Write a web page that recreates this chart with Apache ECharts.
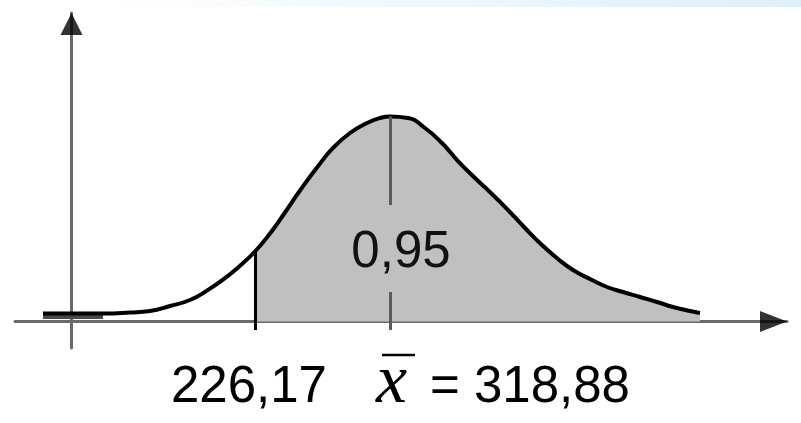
<!DOCTYPE html>
<html>
<head>
<meta charset="utf-8">
<script src="https://cdn.jsdelivr.net/npm/echarts@6/dist/echarts.min.js"></script>
<style>
  html, body { margin: 0; padding: 0; background: #fff; }
  #chart { width: 801px; height: 423px; }
</style>
</head>
<body>
<div id="chart"></div>
<script>
// values (x in the original units, y = density x 1000)
const curveX = [80.58, 121.79, 140.33, 154.06, 167.80, 181.53, 193.21, 204.19, 215.87, 226.17,
    236.47, 246.77, 257.07, 268.75, 279.74, 291.41, 303.08, 312.01, 318.88, 331.24,
    342.92, 354.59, 365.58, 377.25, 388.93, 399.92, 411.59, 423.26, 434.25, 444.55,
    456.23, 467.90, 478.89, 490.57, 502.24, 513.23, 524.90, 531.77];
const curveY = [0.276, 0.276, 0.310, 0.362, 0.534, 0.741, 1.066, 1.441, 1.921, 2.414,
    3.034, 3.759, 4.517, 5.310, 5.983, 6.500, 6.845, 7.017, 7.069, 7.017,
    6.672, 6.155, 5.534, 4.948, 4.397, 3.845, 3.224, 2.638, 2.155, 1.776,
    1.466, 1.190, 1.017, 0.845, 0.672, 0.500, 0.362, 0.293];

const cutValue = 226.17;
const meanValue = 318.88;
const areaLabel = '0,95';
const cutLabel = '226,17';
const meanLabel = '= 318,88';

// axis extents
const xRange = [61.35, 591.52];
const yRange = [-0.914, 10.638];
const yAxisAt = 100.15;

// vertical guide lines (y ends)
const cutLineY = [2.414, -0.293];
const meanLineTop = [7.069, 4.017];
const meanLineBottom = [1.017, -0.293];

// dark band under the left tail
const tailBandX = [80.58, 121.79];
const tailBandY = 0.17;

const curve = curveX.map((x, i) => [x, curveY[i]]);
const shaded = curve.filter(p => p[0] >= cutValue);

const chart = echarts.init(document.getElementById('chart'));

const font = '"Liberation Sans", Arial, sans-serif';

const option = {
    animation: false,
    grid: { left: 15, right: 14, top: 13, bottom: 75 },
    xAxis: {
        type: 'value',
        min: xRange[0],
        max: xRange[1],
        axisLine: { onZero: true, lineStyle: { color: '#6a6a6a', width: 3 } },
        axisTick: { show: false },
        axisLabel: { show: false },
        splitLine: { show: false },
    },
    yAxis: {
        type: 'value',
        min: yRange[0],
        max: yRange[1],
        position: 'left',
        offset: -56.5,
        axisLine: { show: true, onZero: false, lineStyle: { color: '#6a6a6a', width: 3 } },
        axisTick: { show: false },
        axisLabel: { show: false },
        splitLine: { show: false },
    },
    series: [
        {
            type: 'line',
            data: shaded,
            smooth: 0.5,
            showSymbol: false,
            lineStyle: { width: 0 },
            areaStyle: { color: '#c0c0c0', opacity: 1 },
            z: 1,
        },
        {
            type: 'line',
            data: tailBandX.map(x => [x, tailBandY]),
            showSymbol: false,
            lineStyle: { color: '#4a4a4a', width: 5 },
            z: 2,
        },
        {
            type: 'line',
            data: curve,
            smooth: 0.5,
            showSymbol: false,
            lineStyle: { color: '#000', width: 4 },
            z: 3,
            markLine: {
                silent: true,
                symbol: ['none', 'none'],
                label: { show: false },
                lineStyle: { type: 'solid', width: 3, color: '#5c5c5c' },
                data: [
                    [{ coord: [cutValue, cutLineY[0]], lineStyle: { color: '#000' } }, { coord: [cutValue, cutLineY[1]] }],
                    [{ coord: [meanValue, meanLineTop[0]] }, { coord: [meanValue, meanLineTop[1]] }],
                    [{ coord: [meanValue, meanLineBottom[0]] }, { coord: [meanValue, meanLineBottom[1]] }],
                ],
            },
        },
        {
            type: 'scatter',
            data: [[yAxisAt, yRange[1]]],
            symbol: 'triangle',
            symbolSize: [22, 22],
            symbolOffset: [0, 11],
            itemStyle: { color: '#000' },
            clip: false,
            z: 4,
        },
        {
            type: 'scatter',
            data: [[xRange[1], 0]],
            symbol: 'triangle',
            symbolSize: [21, 27],
            symbolRotate: -90,
            symbolOffset: [-13.5, 0],
            itemStyle: { color: '#000' },
            clip: false,
            z: 4,
        },
    ],
    graphic: [
        {
            type: 'rect',
            shape: { x: 100, y: 0, width: 701, height: 7 },
            style: {
                fill: new echarts.graphic.LinearGradient(0, 0, 1, 0, [
                    { offset: 0, color: 'rgba(220,239,253,0)' },
                    { offset: 1, color: 'rgba(220,239,253,1)' },
                ]),
            },
            silent: true,
        },
        {
            type: 'text',
            z: 100,
            x: 171, y: 388,
            style: { text: cutLabel, font: '51px ' + font, fill: '#000', verticalAlign: 'middle' },
        },
        {
            type: 'text',
            z: 100,
            x: 401, y: 253,
            style: { text: areaLabel, font: '51px ' + font, fill: '#111', align: 'center', verticalAlign: 'middle' },
        },
        {
            type: 'text',
            z: 100,
            x: 376, y: 384,
            style: { text: 'x', font: 'italic 70px "Liberation Serif", "Times New Roman", serif', fill: '#000', verticalAlign: 'middle' },
        },
        {
            type: 'line',
            z: 100,
            shape: { x1: 382, y1: 355, x2: 415, y2: 355 },
            style: { stroke: '#000', lineWidth: 2.5 },
        },
        {
            type: 'text',
            z: 100,
            x: 430, y: 388,
            style: { text: meanLabel, font: '51px ' + font, fill: '#000', verticalAlign: 'middle' },
        },
    ],
};

chart.setOption(option);
window.addEventListener('resize', () => chart.resize());
</script>
</body>
</html>
